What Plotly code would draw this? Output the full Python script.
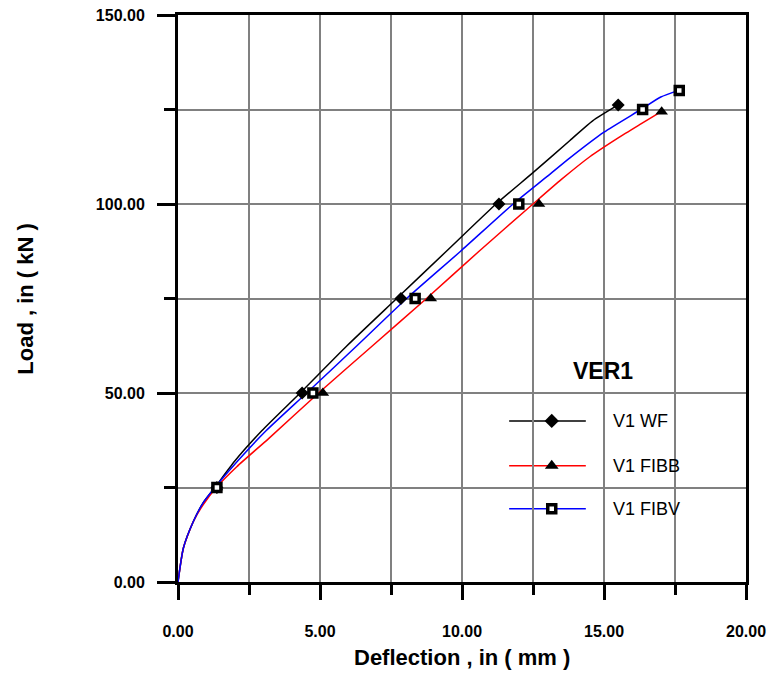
import plotly.graph_objects as go

# Load-deflection curves (deflection in mm, load in kN)
wf_curve_x = [0, 0.19, 0.54, 0.89, 1.3, 2.0, 2.95, 4.3, 5.95, 7.7, 9.45, 11.2, 12.5, 13.8, 14.6, 15.5]
wf_curve_y = [0, 9, 16, 21, 25, 32, 40, 50, 62.5, 75, 87.5, 100, 108.3, 116.8, 122, 126.2]

fibb_curve_x = [0, 0.19, 0.54, 0.89, 1.35, 2.07, 3.2, 4.95, 6.85, 8.75, 10.6, 12.5, 13.5, 14.5, 15.5, 16.3, 17.0]
fibb_curve_y = [0, 9, 16, 20.5, 25, 30.5, 38, 50, 62.5, 75, 87.5, 100, 106.5, 112.5, 117.5, 121.2, 124.4]

fibv_curve_x = [0, 0.19, 0.54, 0.89, 1.3, 2.1, 3.1, 4.53, 6.3, 8.05, 9.95, 11.8, 13.0, 13.8, 15.0, 16.3, 17.0, 17.6]
fibv_curve_y = [0, 9, 16, 21, 25, 32, 40, 50, 62.5, 75, 87.5, 100, 107.3, 112.2, 119, 125, 128.3, 130]

# Measured points shown with symbols
wf_pts_x = [1.37, 4.37, 7.85, 11.3, 15.5]
wf_pts_y = [25, 50, 75, 100, 126.2]
fibb_pts_x = [1.37, 5.1, 8.9, 12.71, 17.03]
fibb_pts_y = [25, 50, 75, 100, 124.4]
fibv_pts_x = [1.37, 4.75, 8.35, 12.0, 16.36, 17.65]
fibv_pts_y = [25, 50, 75, 100, 125, 130]

series_names = ["V1 WF", "V1 FIBB", "V1 FIBV"]
legend_title = "VER1"
x_title = "Deflection , in ( mm )"
y_title = "Load , in ( kN )"

FONT = "Arial, 'Liberation Sans', sans-serif"
GRID = "#808080"

styles = [
    dict(color="black", symbol="diamond", msize=10, fill="black", lw=0),
    dict(color="red", symbol="triangle-up", msize=11, fill="black", lw=0),
    dict(color="blue", symbol="square", msize=8, fill="white", lw=3.5),
]

fig = go.Figure()

curves = [(wf_curve_x, wf_curve_y, wf_pts_x, wf_pts_y),
          (fibb_curve_x, fibb_curve_y, fibb_pts_x, fibb_pts_y),
          (fibv_curve_x, fibv_curve_y, fibv_pts_x, fibv_pts_y)]

for (cx, cy, px, py), st, name in zip(curves, styles, series_names):
    fig.add_trace(go.Scatter(
        x=cx, y=cy, mode="lines", name=name, showlegend=False,
        line=dict(color=st["color"], width=1.5, shape="spline", smoothing=0.6),
        hoverinfo="skip"))
for (cx, cy, px, py), st, name in zip(curves, styles, series_names):
    fig.add_trace(go.Scatter(
        x=px, y=py, mode="markers", name=name, showlegend=False,
        marker=dict(symbol=st["symbol"], size=st["msize"], color=st["fill"],
                    line=dict(color="black", width=st["lw"]))))

# Key box drawn inside the plot area (fractions of the plot area)
box_x0, box_x1, box_y0, box_y1 = 0.572, 0.917, 0.097, 0.414
key_rows = [0.284, 0.205, 0.129]
line_x0, line_x1, sym_x, text_x = 0.583, 0.718, 0.658, 0.763

shapes = [dict(type="rect", xref="paper", yref="paper", x0=box_x0, x1=box_x1,
               y0=box_y0, y1=box_y1, fillcolor="white", line=dict(width=0),
               layer="between")]
for st, ry in zip(styles, key_rows):
    shapes.append(dict(type="line", xref="paper", yref="paper", x0=line_x0, x1=line_x1,
                       y0=ry, y1=ry, line=dict(color=st["color"], width=1.5),
                       layer="between"))

for st, ry in zip(styles, key_rows):
    fig.add_trace(go.Scatter(
        x=[sym_x], y=[ry], xaxis="x2", yaxis="y2", mode="markers", showlegend=False,
        hoverinfo="skip",
        marker=dict(symbol=st["symbol"], size=st["msize"] + (1 if st["lw"] == 0 else 0),
                    color=st["fill"], line=dict(color="black", width=st["lw"]))))

annotations = [
    dict(text=legend_title, xref="paper", yref="paper", x=0.749, y=0.372,
         xanchor="center", yanchor="middle", showarrow=False,
         font=dict(family=FONT, size=23, color="black", weight="bold")),
    dict(text=x_title, xref="paper", yref="paper", x=0.5, y=-0.134,
         showarrow=False, xanchor="center", yanchor="middle",
         font=dict(family=FONT, size=22, color="black", weight="bold")),
    dict(text=y_title, xref="paper", yref="paper", x=-0.269, y=0.5, textangle=-90,
         showarrow=False, xanchor="center", yanchor="middle",
         font=dict(family=FONT, size=22, color="black", weight="bold")),
]
for name, ry in zip(series_names, key_rows):
    annotations.append(dict(text=name, xref="paper", yref="paper", x=text_x, y=ry,
                            xanchor="left", yanchor="middle", showarrow=False,
                            font=dict(family=FONT, size=18, color="black")))

axis_common = dict(
    showline=True, linewidth=3, linecolor="black", mirror=True, automargin=False,
    showgrid=True, gridcolor=GRID, gridwidth=1.5, zeroline=False,
    ticks="outside", tickwidth=3, tickcolor="black", tickformat=".2f",
    tickfont=dict(family=FONT, size=16, color="black", weight="bold"),
)

fig.update_layout(
    width=773, height=676,
    margin=dict(l=178, r=27, t=15, b=94, autoexpand=False),
    paper_bgcolor="white", plot_bgcolor="white",
    xaxis=dict(range=[0, 20], dtick=5, tick0=0, ticklen=15, ticklabelstandoff=18,
               minor=dict(dtick=2.5, showgrid=True, gridcolor=GRID, gridwidth=1.5,
                          ticks="outside", ticklen=10, tickwidth=3, tickcolor="black"),
               **axis_common),
    yaxis=dict(range=[0, 150], dtick=50, tick0=0, ticklen=18, ticklabelstandoff=9,
               minor=dict(dtick=25, showgrid=True, gridcolor=GRID, gridwidth=1.5,
                          ticks="outside", ticklen=11, tickwidth=3, tickcolor="black"),
               **axis_common),
    xaxis2=dict(range=[0, 1], overlaying="x", visible=False, fixedrange=True),
    yaxis2=dict(range=[0, 1], overlaying="y", visible=False, fixedrange=True),
    shapes=shapes, annotations=annotations, showlegend=False,
)

fig.write_html("out.html")
